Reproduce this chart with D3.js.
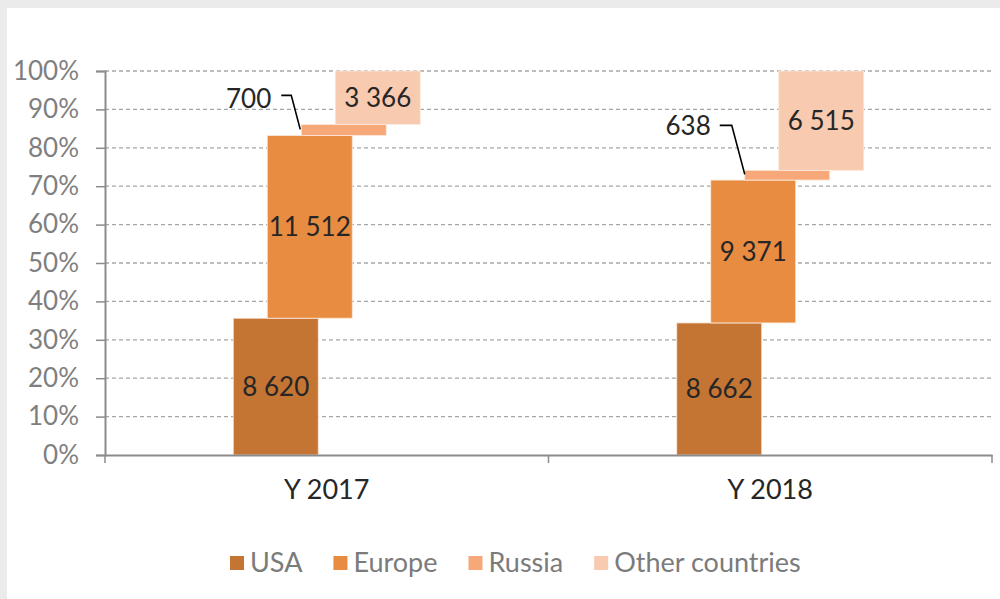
<!DOCTYPE html>
<html>
<head>
<meta charset="utf-8">
<script src="https://cdn.jsdelivr.net/npm/d3@7"></script>
<style>
  body { margin: 0; background: #ebebeb; }
  svg { display: block; font-family: Lato, "Open Sans", sans-serif; }
</style>
</head>
<body>
<div id="graph"></div>
<script>
//Chart data
var years = ["Y 2017", "Y 2018"];
var seriesNames = ["USA", "Europe", "Russia", "Other countries"];
var usa = [8620, 8662];
var europe = [11512, 9371];
var russia = [700, 638];
var other = [3366, 6515];
var yTicks = [0, 0.1, 0.2, 0.3, 0.4, 0.5, 0.6, 0.7, 0.8, 0.9, 1];

var colors = ["#c47433", "#e88c42", "#f7a878", "#f8cab0"];

//Number format with a space as thousands separator
var loc = d3.formatLocale({thousands: " ", grouping: [3], decimal: ",", currency: ["", ""]});
var numFormat = loc.format(",");

var width = 1000, height = 599;

var svg = d3.select("#graph").append("svg").attr("width", width).attr("height", height);

//white panel inside the grey frame
svg.append("rect").attr("x", 7).attr("y", 8).attr("width", width - 7).attr("height", height - 8).attr("fill", "#ffffff");

var margin = {left: 105, right: 8, top: 71, bottom: 144};

var x = d3.scaleBand().domain(years).range([margin.left, width - margin.right]);
var y = d3.scaleLinear().domain([0, 1]).range([height - margin.bottom, margin.top]);

//building the stacked shares per year
var series = [usa, europe, russia, other];
var rows = [];
years.forEach(function(yr, i) {
  var total = d3.sum(series, function(s) { return s[i]; });
  var acc = 0;
  series.forEach(function(s, j) {
    rows.push({year: yr, serie: j, value: s[i], y0: acc / total, y1: (acc + s[i]) / total});
    acc += s[i];
  });
});

//each serie is shifted to the right, like a staircase
var barW = 85, step = 34;
function barX(d) { return x(d.year) + x.bandwidth() / 2 + (d.serie - 1.5) * step - barW / 2; }

//grid lines
svg.append("g").selectAll("line")
  .data(yTicks.slice(1))
  .enter().append("line")
    .attr("x1", margin.left).attr("x2", width - margin.right)
    .attr("y1", function(d) { return y(d); }).attr("y2", function(d) { return y(d); })
    .attr("stroke", "#a6a6a6").attr("stroke-width", 1.3).attr("stroke-dasharray", "4,3");

//bars
svg.append("g").selectAll("rect")
  .data(rows)
  .enter().append("rect")
    .attr("x", barX)
    .attr("y", function(d) { return y(d.y1); })
    .attr("width", barW)
    .attr("height", function(d) { return y(d.y0) - y(d.y1); })
    .attr("fill", function(d) { return colors[d.serie]; })
    .attr("stroke", "#fbe9dc").attr("stroke-width", 0.8);

//y axis
var yAxis = svg.append("g")
  .attr("transform", "translate(" + margin.left + ",0)")
  .call(d3.axisLeft(y).tickValues(yTicks).tickFormat(d3.format(".0%")).tickSize(9).tickPadding(17));
yAxis.select(".domain").attr("stroke", "#8c8c8c").attr("stroke-width", 2);
yAxis.selectAll(".tick line").attr("stroke", "#8c8c8c").attr("stroke-width", 1.5);
yAxis.selectAll("text").attr("font-size", 26).attr("fill", "#7f7f7f").attr("font-family", "Lato");

//x axis
var xAxis = svg.append("g")
  .attr("transform", "translate(0," + y(0) + ")")
  .call(d3.axisBottom(x).tickSize(0).tickPadding(25));
xAxis.select(".domain").attr("stroke", "#8c8c8c").attr("stroke-width", 2);
xAxis.selectAll("text").attr("font-size", 27).attr("fill", "#262626").attr("font-family", "Lato");

//category separators on the x axis
var bounds = [margin.left, x(years[1]), width - margin.right];
svg.append("g").selectAll("line")
  .data(bounds)
  .enter().append("line")
    .attr("x1", function(d) { return d; }).attr("x2", function(d) { return d; })
    .attr("y1", y(0)).attr("y2", y(0) + 8)
    .attr("stroke", "#8c8c8c").attr("stroke-width", 1.5);

//labels inside the bars (not Russia, too thin)
svg.append("g").selectAll("text")
  .data(rows.filter(function(d) { return d.serie !== 2; }))
  .enter().append("text")
    .attr("x", function(d) { return barX(d) + barW / 2; })
    .attr("y", function(d) { return y((d.y0 + d.y1) / 2); })
    .attr("dy", "0.35em")
    .attr("text-anchor", "middle")
    .attr("font-size", 26).attr("fill", "#262626")
    .text(function(d) { return numFormat(d.value); });

//Russia labels with leader lines, placed by hand like in the original
var leaderOffsets = [
  {tx: -30, ty: -26, pts: [[-20, -29], [-10, -29], [-1, 5]]},
  {tx: -34, ty: -44, pts: [[-25, -45], [-13, -45], [0, 4]]}
];
var russiaRows = rows.filter(function(d) { return d.serie === 2; });
russiaRows.forEach(function(d, i) {
  var bx = barX(d), by = y(d.y1), o = leaderOffsets[i];
  svg.append("path")
    .attr("d", d3.line()(o.pts.map(function(p) { return [bx + p[0], by + p[1]]; })))
    .attr("fill", "none").attr("stroke", "#000").attr("stroke-width", 1.6);
  svg.append("text")
    .attr("x", bx + o.tx).attr("y", by + o.ty).attr("dy", "0.35em")
    .attr("text-anchor", "end")
    .attr("font-size", 26).attr("fill", "#262626")
    .text(numFormat(d.value));
});

//legend
var legend = svg.append("g").attr("transform", "translate(0,563)");
var lx = 230;
seriesNames.forEach(function(name, i) {
  var g = legend.append("g").attr("transform", "translate(" + lx + ",0)");
  g.append("rect").attr("x", 0).attr("y", -7).attr("width", 14).attr("height", 14).attr("fill", colors[i]);
  var t = g.append("text").attr("x", 20).attr("dy", "0.35em")
    .attr("font-size", 27).attr("fill", "#7b7b7b").text(name);
  lx += 20 + t.node().getComputedTextLength() + 31;
});
</script>
</body>
</html>
